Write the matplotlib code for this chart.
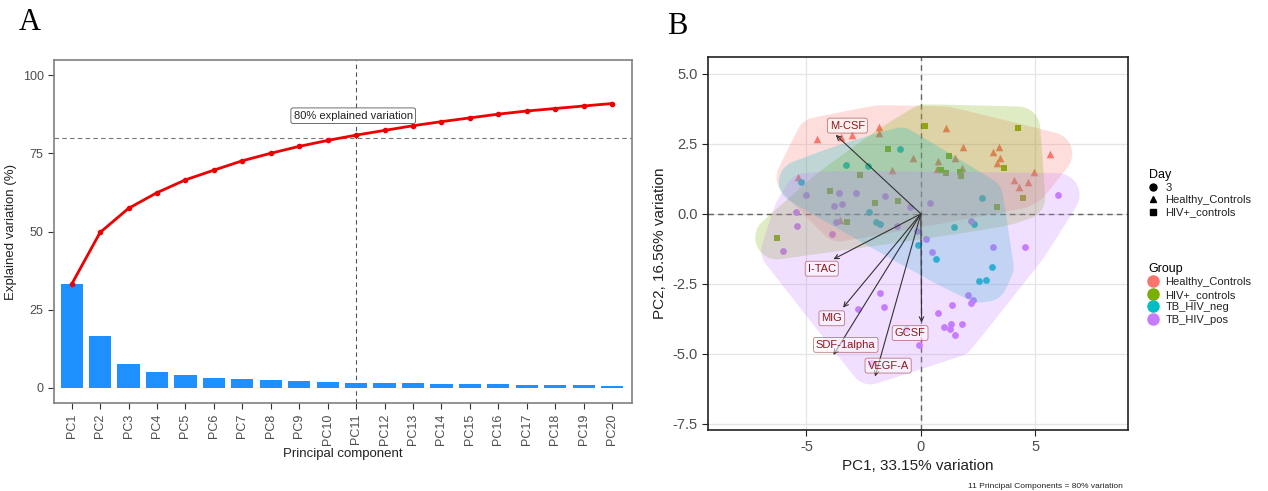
import numpy as np
import matplotlib
matplotlib.use("Agg")
import matplotlib.pyplot as plt
from matplotlib.lines import Line2D

plt.rcParams['font.family'] = ['Liberation Sans', 'DejaVu Sans']
plt.rcParams['axes.unicode_minus'] = False

# ---------------- Panel A data ----------------
pcs = [f"PC{i}" for i in range(1, 21)]
explained = [33.15, 16.56, 7.6, 5.0, 4.1, 3.2, 3.0, 2.4, 2.1, 1.9,
             1.65, 1.55, 1.5, 1.35, 1.2, 1.15, 0.95, 0.85, 0.8, 0.75]
cumulative = [33.15, 49.7, 57.4, 62.4, 66.5, 69.6, 72.6, 75.0, 77.2, 79.1,
              80.8, 82.3, 83.8, 85.1, 86.3, 87.5, 88.5, 89.3, 90.1, 90.9]
cutoff_pc = "PC11"
cutoff_pct = 80

# ---------------- Panel B data ----------------
hc_x = [-4.52, -3.50, -3.02, -1.82, -1.85, 1.09, 1.82, 1.47, 0.73, 0.69, 1.79, -0.36,
        -1.28, 3.13, 3.40, 3.45, 3.31, 4.08, 4.27, 4.66, 4.96, 5.66, -5.35, -3.54]
hc_y = [2.67, 2.74, 2.82, 3.10, 2.88, 3.05, 2.40, 1.99, 1.90, 1.61, 1.63, 1.99,
        1.55, 2.20, 2.40, 2.01, 1.81, 1.21, 0.95, 1.12, 1.49, 2.14, 1.30, -0.21]
hiv_x = [0.19, 4.26, -1.44, 1.24, 0.90, 1.12, 1.72, 1.75, 3.63, -2.65, -3.95, -2.01,
         -1.01, 3.32, 4.48, -3.24, -6.28]
hiv_y = [3.13, 3.05, 2.32, 2.07, 1.55, 1.46, 1.49, 1.36, 1.65, 1.38, 0.83, 0.40,
         0.44, 0.26, 0.58, -0.31, -0.85]
neg_x = [-0.89, -3.28, -2.33, -5.25, -2.26, -1.94, -1.79, 2.65, 2.33, 1.44, -0.12,
         0.66, 3.10, 2.55, 2.84]
neg_y = [2.30, 1.73, 1.69, 1.13, 0.06, -0.30, -0.36, 0.55, -0.36, -0.48, -1.13,
         -1.62, -1.90, -2.39, -2.36]
pos_x = [-5.0, -3.57, -2.83, -1.57, -3.79, -3.43, -5.47, -0.48, 0.41, -5.39, -3.69,
         -1.06, -3.89, -6.02, 5.98, 2.19, -0.15, 0.23, 0.50, 3.13, 4.55,
         -1.78, -2.73, -1.60, 2.04, 2.26, 2.19, 1.34, 0.76, 1.81, 1.31, 1.29, 1.0,
         1.49, -0.07, -0.63, -2.19]
pos_y = [0.68, 0.76, 0.74, 0.62, 0.29, 0.36, 0.05, 0.24, 0.37, -0.42, -0.30,
         -0.43, -0.71, -1.32, 0.67, -0.25, -0.63, -0.89, -1.35, -1.20, -1.17,
         -2.82, -3.39, -3.33, -2.89, -3.06, -3.19, -3.27, -3.55, -3.95, -3.95, -4.10, -4.05,
         -4.33, -4.70, -4.13, -5.31]

loading_names = ["M-CSF", "I-TAC", "MIG", "SDF-1alpha", "VEGF-A", "GCSF"]
loading_x = [-3.72, -3.82, -3.40, -3.82, -2.00, 0.03]
loading_y = [2.82, -1.62, -3.35, -5.04, -5.81, -3.88]
label_x = [-3.21, -4.33, -3.89, -3.28, -1.43, -0.47]
label_y = [3.15, -1.96, -3.73, -4.68, -5.42, -4.26]

groups = ["Healthy_Controls", "HIV+_controls", "TB_HIV_neg", "TB_HIV_pos"]
group_colors = ["#F8766D", "#7CAE00", "#00BFC4", "#C77CFF"]
group_markers = ["^", "s", "o", "o"]
day_labels = ["3", "Healthy_Controls", "HIV+_controls"]
day_markers = ["o", "^", "s"]

W, H = 1268, 491
fig = plt.figure(figsize=(W / 100, H / 100), dpi=100)


def ax_rect(l, t, r, b):
    return [l / W, 1 - b / H, (r - l) / W, (b - t) / H]


# ================= Panel A =================
axA = fig.add_axes(ax_rect(54, 60, 632, 403))
xi = np.arange(len(pcs))
axA.bar(xi, explained, width=0.78, color="#1E90FF", zorder=2)
axA.plot(xi, cumulative, color="#EE0000", lw=2, marker="o", ms=3, zorder=3)
ci = pcs.index(cutoff_pc)
axA.axvline(ci, color="#555555", ls=(0, (4, 3)), lw=0.8, zorder=1)
axA.axhline(cutoff_pct, color="#777777", ls=(0, (4, 3)), lw=0.8, zorder=1)
axA.text(ci - 0.1, 87.0, f"{cutoff_pct}% explained variation", ha="center", va="center",
         fontsize=8, color="#222222",
         bbox=dict(boxstyle="round,pad=0.25,rounding_size=0.2", fc="white", ec="#555555", lw=0.6))
axA.set_xlim(-0.62, 19.7)
axA.set_ylim(-4.8, 104.8)
axA.set_yticks([0, 25, 50, 75, 100])
axA.set_xticks(xi)
axA.set_xticklabels(pcs, rotation=90, fontsize=9, color="#4D4D4D")
axA.tick_params(axis="y", labelsize=9, labelcolor="#4D4D4D", length=4, color="#333333")
axA.tick_params(axis="x", length=4, color="#333333")
for s in axA.spines.values():
    s.set_color("#808080")
    s.set_linewidth(1.2)
axA.set_xlabel("Principal component", fontsize=9.5, color="#222222", labelpad=2)
axA.set_ylabel("Explained variation (%)", fontsize=9.5, color="#222222", labelpad=4)

# ================= Panel B =================
axB = fig.add_axes(ax_rect(708, 57, 1128, 430))
xlim = (-9.3, 9.05)
ylim = (-7.72, 5.6)
axB.set_xlim(*xlim)
axB.set_ylim(*ylim)
axB.set_xticks([-5, 0, 5])
axB.set_yticks([5.0, 2.5, 0.0, -2.5, -5.0, -7.5])
axB.set_yticklabels(["5.0", "2.5", "0.0", "-2.5", "-5.0", "-7.5"])
axB.grid(True, color="#E5E5E5", lw=0.9, zorder=0)
axB.set_axisbelow(True)
axB.tick_params(labelsize=10.5, labelcolor="#4D4D4D", length=4, color="#222222")
for s in axB.spines.values():
    s.set_color("#222222")
    s.set_linewidth(1.2)
axB.set_xlabel("PC1, 33.15% variation", fontsize=11, color="#222222", labelpad=3)
axB.set_ylabel("PC2, 16.56% variation", fontsize=11, color="#222222", labelpad=4)
axB.axvline(0, color="#666666", ls=(0, (4, 3)), lw=1.0, zorder=1)
axB.axhline(0, color="#666666", ls=(0, (4, 3)), lw=1.0, zorder=1)

px_w, px_h = 420.0, 373.0


def to_px(x, y):
    return ((np.asarray(x) - xlim[0]) / (xlim[1] - xlim[0]) * px_w,
            (np.asarray(y) - ylim[0]) / (ylim[1] - ylim[0]) * px_h)


def from_px(px, py):
    return (px / px_w * (xlim[1] - xlim[0]) + xlim[0],
            py / px_h * (ylim[1] - ylim[0]) + ylim[0])


def convex_hull(pts):
    pts = sorted(set(map(tuple, pts)))
    def cross(o, a, b):
        return (a[0] - o[0]) * (b[1] - o[1]) - (a[1] - o[1]) * (b[0] - o[0])
    lower, upper = [], []
    for p in pts:
        while len(lower) >= 2 and cross(lower[-2], lower[-1], p) <= 0:
            lower.pop()
        lower.append(p)
    for p in reversed(pts):
        while len(upper) >= 2 and cross(upper[-2], upper[-1], p) <= 0:
            upper.pop()
        upper.append(p)
    return np.array(lower[:-1] + upper[:-1])


def encircle(x, y, r=22.0):
    px, py = to_px(x, y)
    ang = np.linspace(0, 2 * np.pi, 24, endpoint=False)
    pts = []
    for a, b in zip(px, py):
        for t in ang:
            pts.append((a + r * np.cos(t), b + r * np.sin(t)))
    hull = convex_hull(np.round(np.array(pts), 3))
    P = hull
    for _ in range(5):
        Q = 0.75 * P + 0.25 * np.roll(P, -1, axis=0)
        R = 0.25 * P + 0.75 * np.roll(P, -1, axis=0)
        P = np.empty((2 * len(Q), 2))
        P[0::2] = Q
        P[1::2] = R
    return from_px(P[:, 0], P[:, 1])


group_x = [hc_x, hiv_x, neg_x, pos_x]
group_y = [hc_y, hiv_y, neg_y, pos_y]

for gx, gy, col, mk in zip(group_x, group_y, group_colors, group_markers):
    axB.scatter(gx, gy, s=24 if mk != "^" else 30, marker=mk, color=col, zorder=2, linewidths=0)

for gx, gy, col in zip(group_x, group_y, group_colors):
    ex, ey = encircle(gx, gy)
    axB.fill(ex, ey, color=col, alpha=0.24, lw=0, zorder=3)

for lx, ly in zip(loading_x, loading_y):
    axB.annotate("", xy=(lx, ly), xytext=(0, 0),
                 arrowprops=dict(arrowstyle="->", color="#333333", lw=0.8,
                                 shrinkA=0, shrinkB=0, mutation_scale=8), zorder=4)
for name, tx, ty in zip(loading_names, label_x, label_y):
    axB.text(tx, ty, name, ha="center", va="center", fontsize=8, color="#8B1A1A", zorder=5,
             bbox=dict(boxstyle="round,pad=0.22,rounding_size=0.2", fc="white", alpha=0.55,
                       ec="#8B1A1A", lw=0.6))

# Legends
day_handles = [Line2D([], [], ls="", marker=m, color="black", ms=5) for m in day_markers]
leg1 = fig.legend(day_handles, day_labels, title="Day", loc="upper left",
                  bbox_to_anchor=(1141 / W, 1 - 161 / H), frameon=False,
                  fontsize=8, title_fontsize=9, handlelength=0.8, handletextpad=0.7,
                  labelspacing=0.2, borderpad=0.2)
leg1._legend_box.align = "left"
grp_handles = [Line2D([], [], ls="", marker="o", color=c, ms=8) for c in group_colors]
leg2 = fig.legend(grp_handles, groups, title="Group", loc="upper left",
                  bbox_to_anchor=(1141 / W, 1 - 255 / H), frameon=False,
                  fontsize=8, title_fontsize=9, handlelength=0.8, handletextpad=0.7,
                  labelspacing=0.22, borderpad=0.2)
leg2._legend_box.align = "left"
for t in leg1.get_texts() + leg2.get_texts():
    t.set_color("#222222")

fig.text(1045 / W, 1 - 486 / H, "11 Principal Components = 80% variation",
         fontsize=6, ha="center", va="center", color="#222222")

fig.text(30 / W, 1 - 23 / H, "A", fontsize=22, family="Liberation Serif", ha="center", va="center")
fig.text(677 / W, 1 - 27 / H, "B", fontsize=22, family="Liberation Serif", ha="center", va="center")

fig.savefig("out.png", dpi=100)
